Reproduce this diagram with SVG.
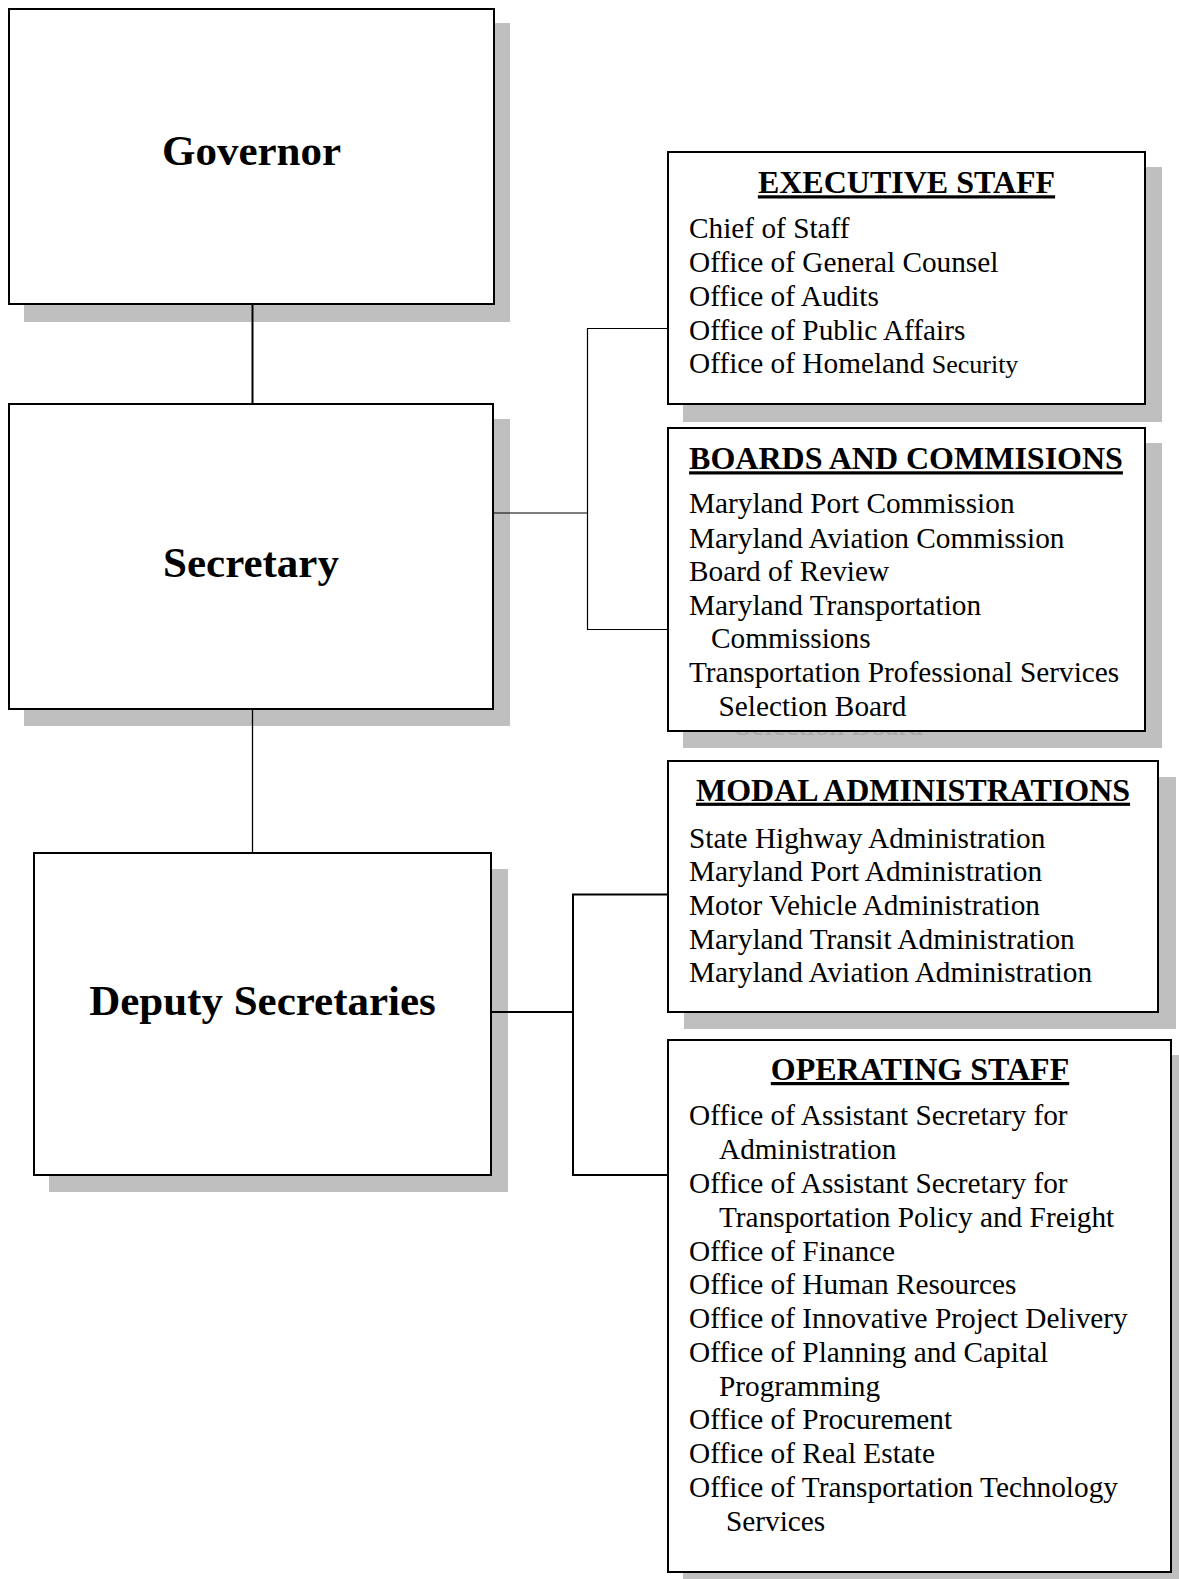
<svg xmlns="http://www.w3.org/2000/svg" width="1179" height="1579" viewBox="0 0 1179 1579">
<style>
  .shadow { fill: #bfbfbf; stroke: none; }
  .box { fill: #ffffff; stroke: #000000; stroke-width: 2; }
  .big { font-family: "Liberation Serif", "Times New Roman", serif; font-weight: bold; font-size: 43px; text-anchor: middle; fill: #000; }
  .title { font-family: "Liberation Serif", "Times New Roman", serif; font-weight: bold; font-size: 32px; text-anchor: middle; text-decoration: underline; fill: #000; }
  .item { font-family: "Liberation Serif", "Times New Roman", serif; font-size: 29.3px; fill: #000; }
  .ghost { font-family: "Liberation Serif", "Times New Roman", serif; font-size: 29.3px; fill: #a9a9a9; }
  .conn { fill: none; stroke: #000000; }
</style>
<rect width="1179" height="1579" fill="#ffffff"/>

<g id="governor">
  <rect class="shadow" x="24" y="23" width="486" height="299"/>
  <rect class="box" x="9" y="9" width="485" height="295"/>
  <text class="big" x="251.5" y="165">Governor</text>
</g>

<g id="secretary">
  <rect class="shadow" x="24" y="419" width="486" height="307"/>
  <rect class="box" x="9" y="404" width="484" height="305"/>
  <text class="big" x="251" y="577">Secretary</text>
</g>

<g id="deputy-secretaries">
  <rect class="shadow" x="49" y="869" width="459" height="323"/>
  <rect class="box" x="34" y="853" width="457" height="322"/>
  <text class="big" x="262.5" y="1015">Deputy Secretaries</text>
</g>

<g id="executive-staff">
  <rect class="shadow" x="683" y="167" width="479" height="255"/>
  <rect class="box" x="668" y="152" width="477" height="252"/>
  <text class="title" x="906.5" y="193.3">EXECUTIVE STAFF</text>
  <text class="item" x="689" y="238.3">Chief of Staff</text>
  <text class="item" x="689" y="271.8">Office of General Counsel</text>
  <text class="item" x="689" y="305.6">Office of Audits</text>
  <text class="item" x="689" y="339.6">Office of Public Affairs</text>
  <text class="item" x="689" y="373.3">Office of Homeland <tspan font-size="26px">Security</tspan></text>
</g>

<g id="boards-and-commissions">
  <rect class="shadow" x="683" y="443" width="479" height="305"/>
  <text class="ghost" x="735" y="735">Selection Board</text>
  <rect class="box" x="668" y="428" width="477" height="303"/>
  <text class="title" x="906" y="469.3">BOARDS AND COMMISIONS</text>
  <text class="item" x="689" y="513.3">Maryland Port Commission</text>
  <text class="item" x="689" y="547.5">Maryland Aviation Commission</text>
  <text class="item" x="689" y="581">Board of Review</text>
  <text class="item" x="689" y="615">Maryland Transportation</text>
  <text class="item" x="711" y="648.4">Commissions</text>
  <text class="item" x="689" y="682.3">Transportation Professional Services</text>
  <text class="item" x="718.5" y="715.8">Selection Board</text>
</g>

<g id="modal-administrations">
  <rect class="shadow" x="684" y="777" width="492" height="252"/>
  <rect class="box" x="668" y="761" width="490" height="251"/>
  <text class="title" x="913" y="800.7">MODAL ADMINISTRATIONS</text>
  <text class="item" x="689" y="847.7">State Highway Administration</text>
  <text class="item" x="689" y="881.2">Maryland Port Administration</text>
  <text class="item" x="689" y="914.6">Motor Vehicle Administration</text>
  <text class="item" x="689" y="948.6">Maryland Transit Administration</text>
  <text class="item" x="689" y="982.3">Maryland Aviation Administration</text>
</g>

<g id="operating-staff">
  <rect class="shadow" x="683" y="1055" width="510" height="535"/>
  <rect class="box" x="668" y="1040" width="503" height="532"/>
  <text class="title" x="920" y="1080">OPERATING STAFF</text>
  <text class="item" x="689" y="1125.2">Office of Assistant Secretary for</text>
  <text class="item" x="719" y="1158.9">Administration</text>
  <text class="item" x="689" y="1192.8">Office of Assistant Secretary for</text>
  <text class="item" x="719" y="1226.8">Transportation Policy and Freight</text>
  <text class="item" x="689" y="1260.8">Office of Finance</text>
  <text class="item" x="689" y="1294.4">Office of Human Resources</text>
  <text class="item" x="689" y="1328.3">Office of Innovative Project Delivery</text>
  <text class="item" x="689" y="1362">Office of Planning and Capital</text>
  <text class="item" x="719" y="1395.6">Programming</text>
  <text class="item" x="689" y="1429.4">Office of Procurement</text>
  <text class="item" x="689" y="1463.1">Office of Real Estate</text>
  <text class="item" x="689" y="1496.8">Office of Transportation Technology</text>
  <text class="item" x="726" y="1530.5">Services</text>
</g>

<g id="connectors">
  <line class="conn" x1="252.5" y1="304" x2="252.5" y2="404" stroke-width="2"/>
  <line class="conn" x1="252.5" y1="709" x2="252.5" y2="853" stroke-width="1.3"/>
  <polyline class="conn" points="493,513 587.5,513" stroke-width="1.2"/>
  <polyline class="conn" points="668,328.5 587.5,328.5 587.5,629.5 668,629.5" stroke-width="1.2"/>
  <polyline class="conn" points="491,1012 573,1012" stroke-width="2"/>
  <polyline class="conn" points="668,894.5 573,894.5 573,1175 668,1175" stroke-width="2"/>
</g>
</svg>
